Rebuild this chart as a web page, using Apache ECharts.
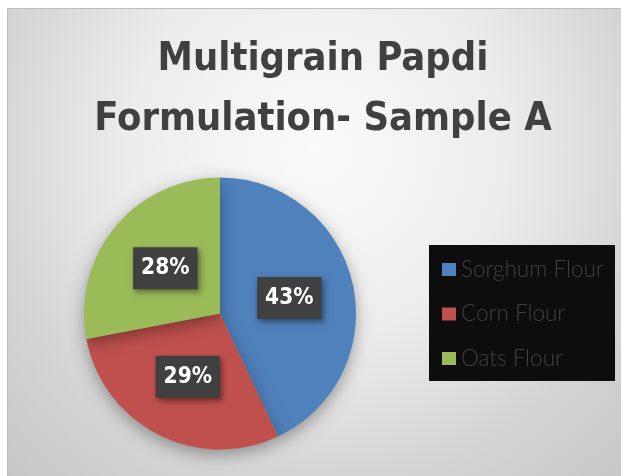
<!DOCTYPE html>
<html>
<head>
<meta charset="utf-8">
<script src="https://cdn.jsdelivr.net/npm/echarts@6/dist/echarts.min.js"></script>
<style>
html,body{margin:0;padding:0;background:#ffffff;}
#chart{width:621px;height:476px;}
</style>
</head>
<body>
<div id="chart"></div>
<script>
const titleText = 'Multigrain Papdi\nFormulation- Sample A';
const categories = ['Sorghum Flour', 'Corn Flour', 'Oats Flour'];
const values = [43, 29, 28];
const colors = ['#4f81bd', '#c0504d', '#9bbb59'];

const chart = echarts.init(document.getElementById('chart'), null, {renderer: 'canvas'});
const option = {
  animation: false,
  color: colors,
  graphic: {
    elements: [
      {
        type: 'rect', z: -100, silent: true,
        shape: {x: 7.5, y: 8.5, width: 620, height: 475},
        style: {
          fill: new echarts.graphic.RadialGradient(0.5, 0.3, 1.0, [
            {offset: 0, color: '#fbfbfb'},
            {offset: 0.4, color: '#ececec'},
            {offset: 0.7, color: '#d4d4d4'},
            {offset: 1, color: '#c4c4c4'}
          ]),
          stroke: '#bdbdbd', lineWidth: 1
        }
      },
      {
        type: 'rect', z: -50, silent: true,
        shape: {x: 429, y: 245, width: 186, height: 136},
        style: {fill: '#0d0d0d'}
      }
    ]
  },
  title: {
    text: titleText,
    left: 323,
    top: 30,
    padding: 0,
    textAlign: 'center',
    textStyle: {
      fontFamily: 'DejaVu Sans Condensed',
      fontWeight: 'bold',
      fontSize: 39.5,
      lineHeight: 60,
      color: '#404040'
    }
  },
  legend: {
    orient: 'vertical',
    left: 442,
    top: 256.5,
    padding: 0,
    itemWidth: 14,
    itemHeight: 13,
    itemGap: 18.5,
    icon: 'rect',
    data: categories,
    textStyle: {
      fontFamily: 'Lato',
      fontWeight: 300,
      fontSize: 22.5,
      lineHeight: 26,
      color: '#404040'
    }
  },
  series: [{
    type: 'pie',
    center: [220, 313.5],
    radius: 136,
    startAngle: 90,
    clockwise: true,
    percentPrecision: 0,
    data: categories.map((c, i) => ({name: c, value: values[i]})),
    itemStyle: {
      shadowBlur: 16,
      shadowColor: 'rgba(0,0,0,0.35)',
      shadowOffsetY: 5
    },
    label: {
      show: true,
      position: 'inside',
      formatter: '{d}%',
      fontFamily: 'DejaVu Sans Condensed',
      fontWeight: 'bold',
      fontSize: 22.5,
      color: '#ffffff',
      backgroundColor: '#404040',
      padding: [10, 8, 9, 8],
      shadowBlur: 6,
      shadowColor: 'rgba(0,0,0,0.45)',
      shadowOffsetX: 2,
      shadowOffsetY: 3
    },
    labelLine: {show: false},
    emphasis: {disabled: true}
  }]
};
chart.setOption(option);
</script>
</body>
</html>
